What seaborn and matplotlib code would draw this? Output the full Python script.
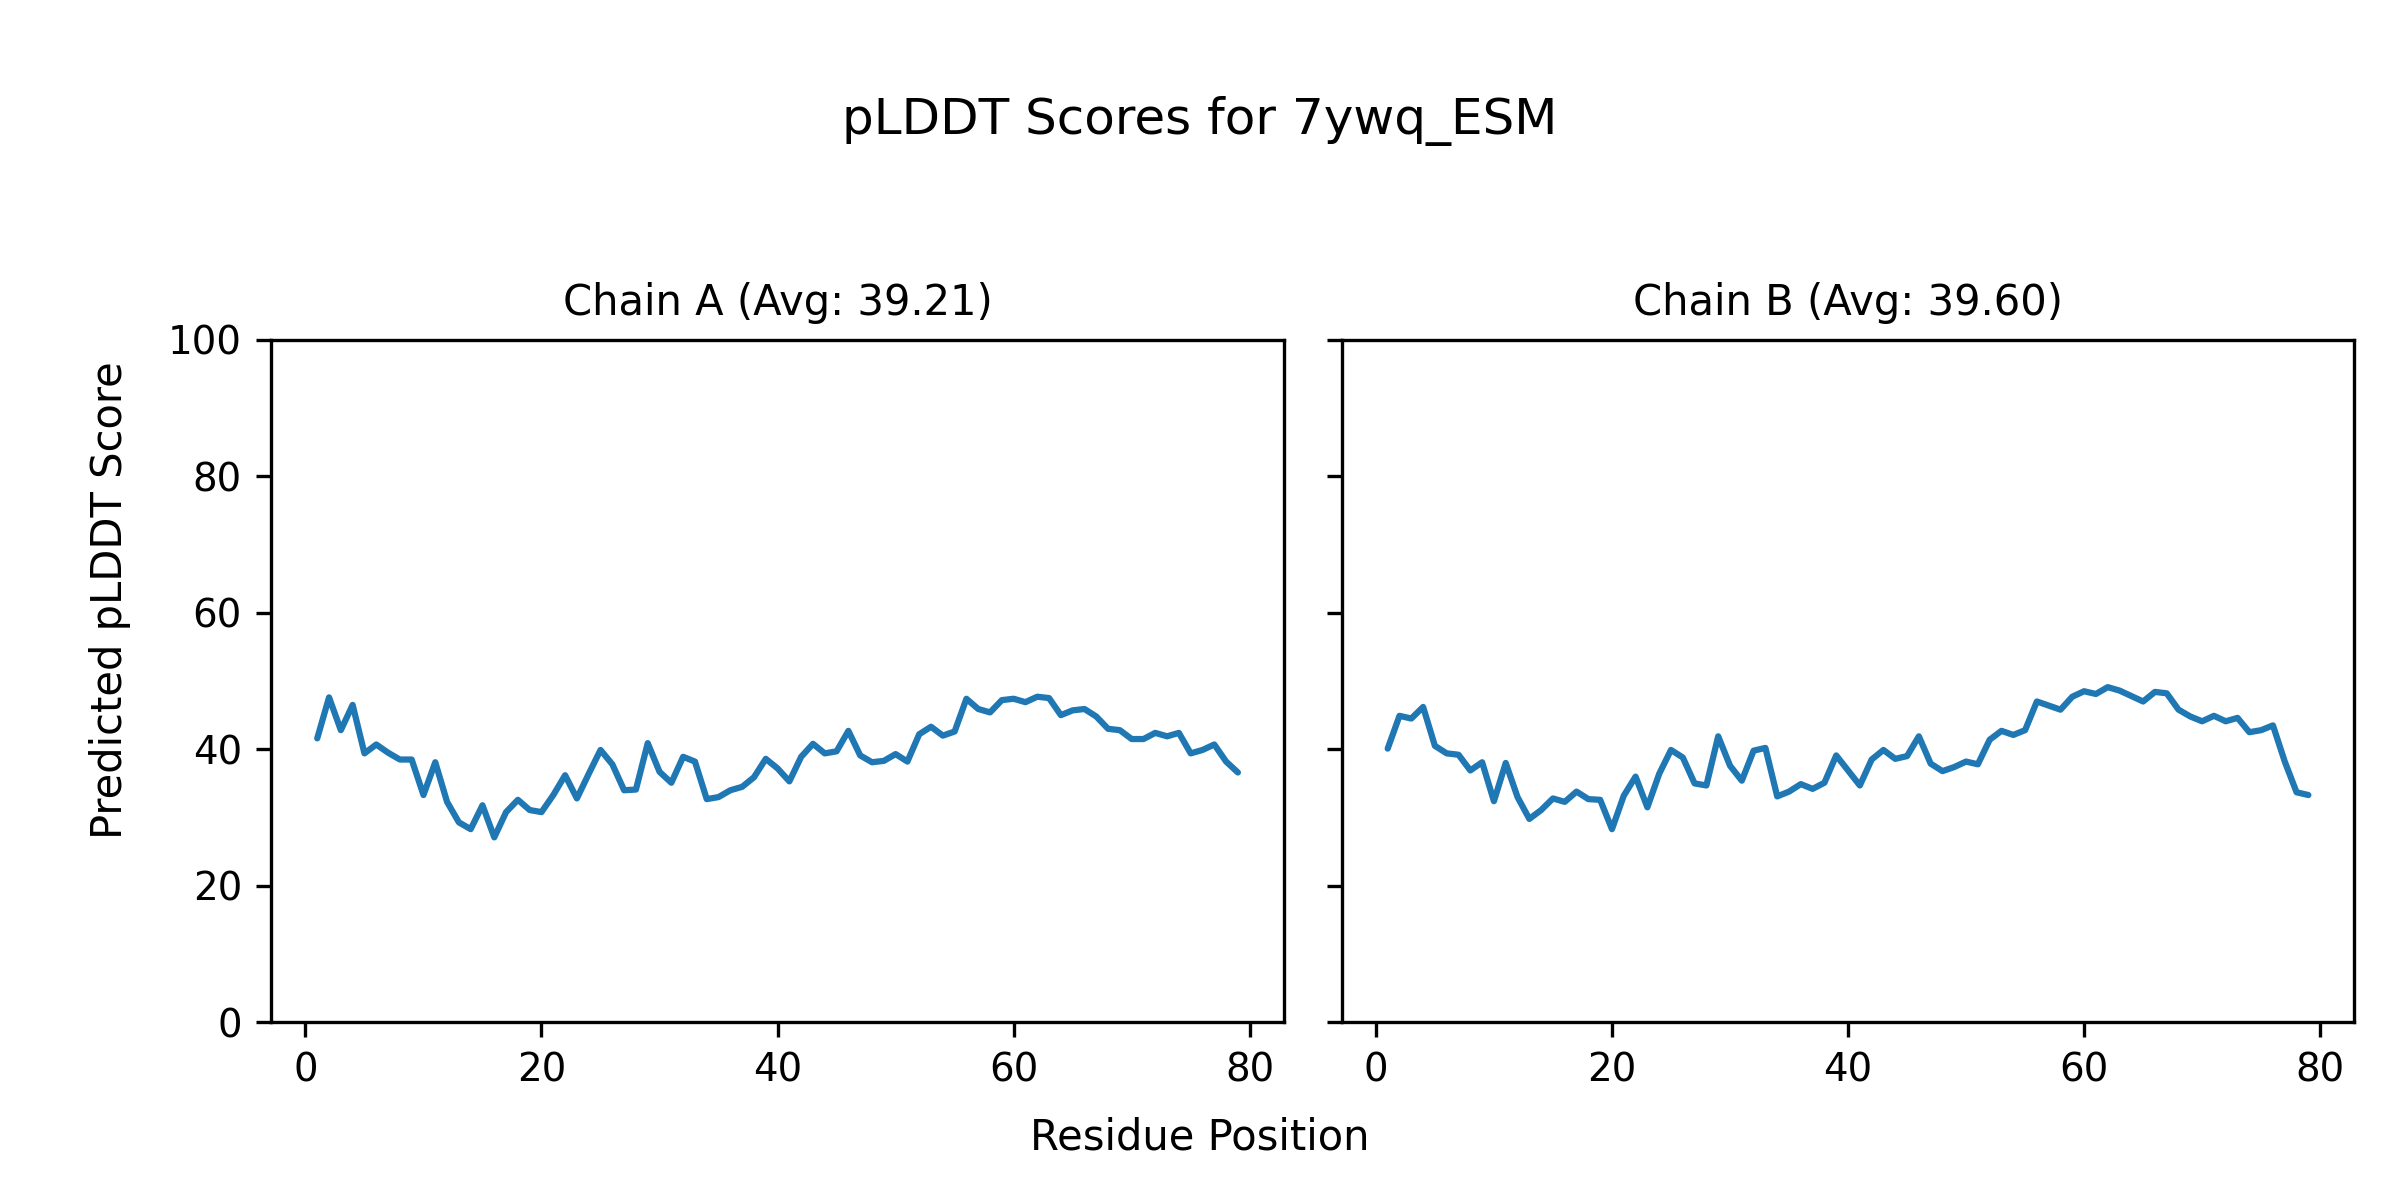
import numpy as np
import pandas as pd
import matplotlib
matplotlib.use("Agg")
import matplotlib.pyplot as plt
import seaborn as sns

# pLDDT values, residues 1..79
chain_a_scores = [
    41.6, 47.6, 42.8, 46.5, 39.4, 40.7, 39.5, 38.5, 38.5, 33.3,
    38.1, 32.3, 29.3, 28.3, 31.8, 27.1, 30.8, 32.6, 31.1, 30.8,
    33.3, 36.2, 32.8, 36.4, 39.9, 37.8, 34.0, 34.1, 40.9, 36.7,
    35.1, 38.9, 38.2, 32.7, 33.0, 34.0, 34.5, 35.9, 38.6, 37.2,
    35.3, 38.9, 40.8, 39.4, 39.7, 42.7, 39.1, 38.1, 38.3, 39.3,
    38.2, 42.2, 43.3, 42.0, 42.6, 47.4, 45.9, 45.4, 47.2, 47.4,
    46.9, 47.7, 47.5, 45.0, 45.7, 45.9, 44.8, 43.0, 42.8, 41.5,
    41.5, 42.4, 41.9, 42.4, 39.4, 39.9, 40.7, 38.2, 36.6,
]
chain_b_scores = [
    40.1, 44.9, 44.5, 46.2, 40.5, 39.4, 39.2, 36.9, 38.1, 32.4,
    38.0, 33.0, 29.8, 31.1, 32.8, 32.3, 33.8, 32.7, 32.6, 28.3,
    33.2, 36.0, 31.5, 36.4, 39.9, 38.8, 35.0, 34.7, 41.9, 37.6,
    35.4, 39.8, 40.2, 33.1, 33.8, 34.9, 34.2, 35.1, 39.1, 36.9,
    34.7, 38.5, 39.9, 38.6, 39.0, 41.9, 37.9, 36.8, 37.4, 38.2,
    37.8, 41.4, 42.7, 42.1, 42.8, 47.0, 46.4, 45.8, 47.7, 48.5,
    48.1, 49.1, 48.6, 47.8, 47.0, 48.4, 48.2, 45.8, 44.8, 44.1,
    44.9, 44.1, 44.6, 42.5, 42.8, 43.5, 38.2, 33.7, 33.3,
]
chain_names = ["A", "B"]
chain_avgs = [39.21, 39.60]
model_name = "7ywq_ESM"

frames = []
for name, scores in zip(chain_names, [chain_a_scores, chain_b_scores]):
    frames.append(pd.DataFrame({
        "chain": name,
        "residue": np.arange(1, len(scores) + 1),
        "plddt": scores,
    }))
df = pd.concat(frames, ignore_index=True)

sns.set_style("ticks", rc={
    "text.color": "black",
    "axes.labelcolor": "black",
    "axes.edgecolor": "black",
    "xtick.color": "black",
    "ytick.color": "black",
})
plt.rcParams["font.family"] = ["DejaVu Sans"]

fig, axes = plt.subplots(1, 2, figsize=(8, 4), dpi=300, sharey=True)
for ax, name, avg in zip(axes, chain_names, chain_avgs):
    sub = df[df["chain"] == name]
    sns.lineplot(data=sub, x="residue", y="plddt", ax=ax, color="#1f77b4", linewidth=1.5)
    ax.set_title(f"Chain {name} (Avg: {avg:.2f})", fontsize=10)
    ax.set_xlabel("")
    ax.set_ylabel("")
    ax.set_ylim(0, 100)
    ax.set_xticks([0, 20, 40, 60, 80])
    ax.tick_params(labelsize=9.3, width=0.8, length=3.5)
    for sp in ax.spines.values():
        sp.set_visible(True)
        sp.set_linewidth(0.8)

fig.suptitle(f"pLDDT Scores for {model_name}", fontsize=12, y=0.92)
fig.supxlabel("Residue Position", fontsize=10, y=0.035)
fig.supylabel("Predicted pLDDT Score", fontsize=10, x=0.046, ha="center")
fig.subplots_adjust(left=0.113, right=0.981, bottom=0.148, top=0.717, wspace=0.057)
fig.savefig("out.png", dpi=300)
